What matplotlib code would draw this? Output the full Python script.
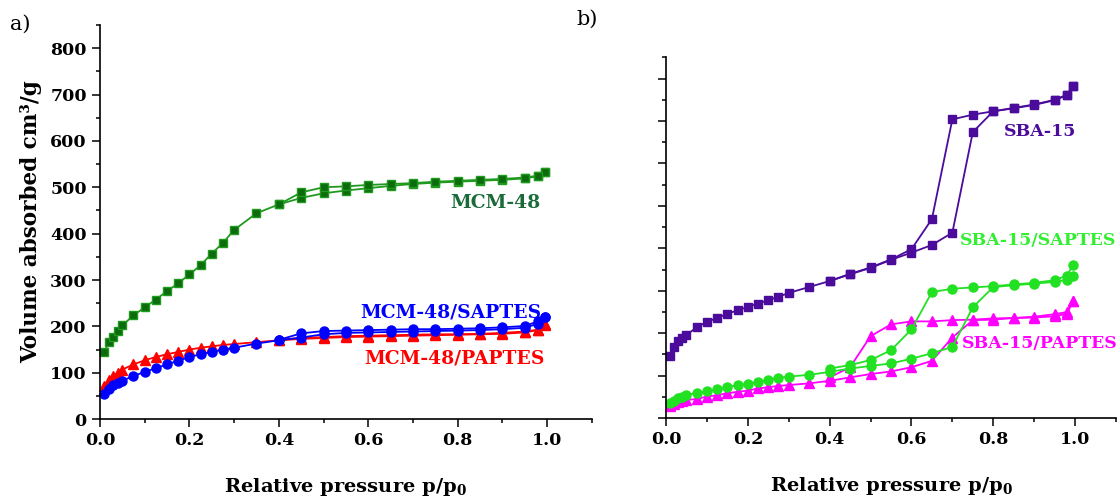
import numpy as np
import matplotlib
matplotlib.use("Agg")
from matplotlib import pyplot as plt
from matplotlib.ticker import MultipleLocator

plt.rcParams['font.family'] = 'DejaVu Serif'
plt.rcParams['mathtext.fontset'] = 'dejavuserif'

# relative pressure points
p_ads = [0.01, 0.02, 0.03, 0.04, 0.05, 0.075, 0.1, 0.125, 0.15, 0.175, 0.2, 0.225, 0.25, 0.275, 0.3,
         0.35, 0.4, 0.45, 0.5, 0.55, 0.6, 0.65, 0.7, 0.75, 0.8, 0.85, 0.9, 0.95, 0.98, 0.995]
p_des = [0.995, 0.98, 0.95, 0.9, 0.85, 0.8, 0.75, 0.7, 0.65, 0.6, 0.55, 0.5, 0.45, 0.4]

# panel a
mcm48_ads = [144, 167, 178, 190, 202, 224, 241, 258, 276, 293, 312, 332, 357, 380, 408,
             444, 463, 477, 487, 493, 498, 503, 507, 510, 512, 514, 516, 519, 524, 534]
mcm48_des = [534, 525, 521, 518, 516, 514, 512, 509, 507, 505, 502, 500, 489, 463]
sap_ads = [55, 66, 73, 78, 83, 93, 102, 110, 118, 126, 134, 140, 145, 150, 154,
           163, 170, 176, 183, 186, 187, 188, 189, 190, 191, 192, 194, 197, 206, 220]
sap_des = [220, 211, 201, 198, 196, 195, 194, 194, 193, 192, 191, 190, 185, 171]
pap_ads = [72, 85, 93, 100, 107, 118, 127, 134, 140, 145, 150, 154, 157, 160, 162,
           166, 170, 173, 175, 177, 178, 179, 180, 181, 182, 183, 184, 187, 192, 203]
pap_des = [206, 193, 189, 186, 184, 183, 183, 182, 181, 180, 179, 177, 175, 171]

# panel b
sba_ads = [147, 168, 182, 190, 196, 214, 227, 236, 246, 254, 262, 270, 278, 286, 295,
           309, 323, 339, 354, 373, 390, 408, 437, 674, 723, 731, 739, 750, 762, 783]
sba_des = [783, 761, 749, 738, 730, 723, 715, 704, 469, 398, 374, 355, 340, 323]
ssap_ads = [35, 41, 47, 51, 55, 59, 63, 68, 73, 78, 81, 85, 90, 95, 98,
            102, 109, 117, 123, 129, 140, 153, 168, 261, 309, 313, 317, 321, 326, 334]
ssap_des = [360, 336, 325, 319, 315, 311, 308, 305, 297, 209, 160, 137, 125, 117]
spap_ads = [29, 34, 37, 41, 43, 45, 51, 54, 59, 62, 65, 70, 73, 76, 78,
            82, 88, 96, 104, 110, 120, 135, 190, 231, 232, 236, 237, 240, 246, 276]
spap_des = [276, 250, 245, 239, 236, 235, 232, 231, 228, 228, 221, 193, 120, 96]

fig = plt.figure(figsize=(11.18, 4.99), dpi=100)
ax1 = fig.add_axes([0.0894, 0.160, 0.440, 0.790])
ax2 = fig.add_axes([0.5957, 0.162, 0.4025, 0.723])


def draw(ax, ads, des, marker, lc, fc, ms):
    ax.plot(p_ads, ads, marker=marker, color=lc, mfc=fc, mec=lc, ms=ms, lw=1.3, clip_on=False)
    ax.plot(p_des, des, marker=marker, color=lc, mfc=fc, mec=lc, ms=ms, lw=1.3, clip_on=False)


draw(ax1, mcm48_ads, mcm48_des, 's', '#1f9a1f', '#0c6b0c', 6)
draw(ax1, pap_ads, pap_des, '^', '#ff0000', '#ff0000', 7)
draw(ax1, sap_ads, sap_des, 'o', '#0000ff', '#0000ff', 6.5)

draw(ax2, sba_ads, sba_des, 's', '#4b0b9b', '#4b0b9b', 6)
draw(ax2, spap_ads, spap_des, '^', '#ff00ff', '#ff00ff', 7)
draw(ax2, ssap_ads, ssap_des, 'o', '#22e022', '#22e022', 6.5)

for ax in (ax1, ax2):
    ax.set_xlim(0, 1.1)
    ax.set_ylim(0, 850)
    ax.spines['top'].set_visible(False)
    ax.spines['right'].set_visible(False)
    ax.spines['left'].set_linewidth(1.2)
    ax.spines['bottom'].set_linewidth(1.2)
    ax.xaxis.set_major_locator(MultipleLocator(0.2))
    ax.xaxis.set_minor_locator(MultipleLocator(0.1))
    ax.yaxis.set_major_locator(MultipleLocator(100))
    ax.yaxis.set_minor_locator(MultipleLocator(50))
    ax.tick_params(which='major', direction='out', length=6, width=1.1, labelsize=12.5)
    ax.tick_params(which='minor', direction='out', length=3, width=1.1)
    for lab in ax.get_xticklabels() + ax.get_yticklabels():
        lab.set_fontweight('bold')
    ax.xaxis.set_major_formatter(matplotlib.ticker.FormatStrFormatter('%.1f'))
    ax.set_xlabel(r'Relative pressure p/p$_\mathbf{0}$', fontsize=14, fontweight='bold', labelpad=19)

ax2.tick_params(axis='y', labelleft=False)
ax1.set_ylabel('Volume absorbed cm³/g', fontsize=15.5, fontweight='bold', labelpad=6)

tk = dict(fontsize=13.5, fontweight='bold', ha='center', va='center')
ax1.text(0.884, 466, 'MCM-48', color='#1b6b3a', **tk)
ax1.text(0.785, 231, 'MCM-48/SAPTES', color='#0000ff', **tk)
ax1.text(0.792, 131, 'MCM-48/PAPTES', color='#ff0000', **tk)
tk['fontsize'] = 12.5
ax2.text(0.914, 676, 'SBA-15', color='#4b0b9b', **tk)
ax2.text(0.91, 418, 'SBA-15/SAPTES', color='#33ee33', **tk)
ax2.text(0.914, 175, 'SBA-15/PAPTES', color='#ff00ff', **tk)

fig.text(0.009, 0.94, 'a)', fontsize=15)
fig.text(0.516, 0.95, 'b)', fontsize=15)

fig.savefig('out.png', dpi=100)
